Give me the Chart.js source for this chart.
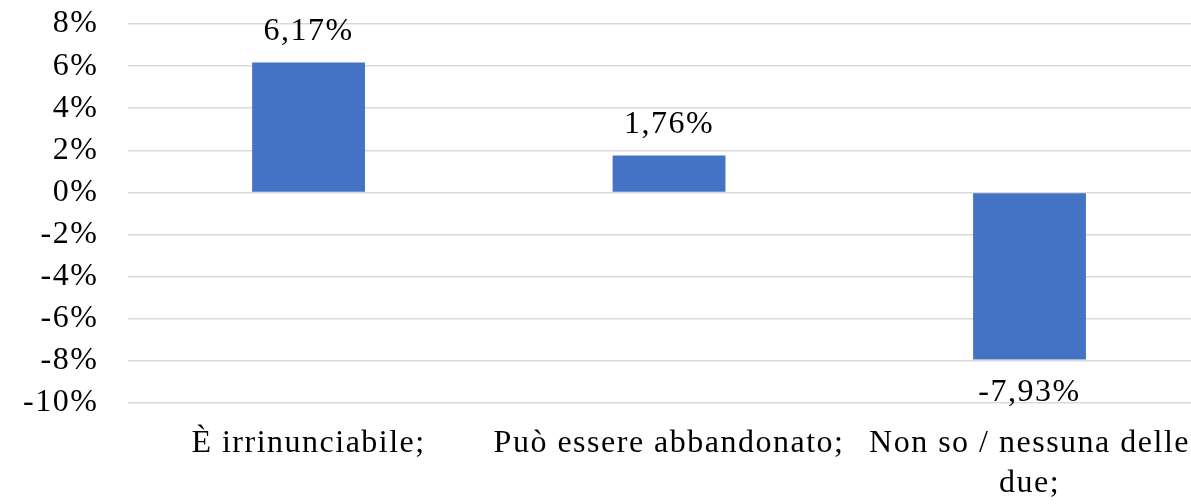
<!DOCTYPE html>
<html>
<head>
<meta charset="utf-8">
<script src="https://cdn.jsdelivr.net/npm/chart.js@4"></script>
<style>
  html, body { margin: 0; padding: 0; background: #fff; overflow: hidden; }
  #wrap { width: 1211px; height: 504px; position: relative; }
</style>
</head>
<body>
<div id="wrap"><canvas id="c"></canvas></div>
<script>
const categories = ["È irrinunciabile;", "Può essere abbandonato;", ["Non so / nessuna delle", "due;"]];
const values = [6.17, 1.76, -7.93];
const yMin = -10, yMax = 8, yStep = 2;

const FAMILY = "'Liberation Serif', 'Times New Roman', serif";
const FONT = { family: FAMILY, size: 32, lineHeight: 1.2 };
const XFONT = { family: FAMILY, size: 32, lineHeight: 1.25 };
const SPACING = '1.5px';

const spacingPlugin = {
  id: 'spacing',
  beforeLayout(chart) { chart.ctx.letterSpacing = SPACING; },
  beforeDraw(chart) { chart.ctx.letterSpacing = SPACING; }
};

const labelPlugin = {
  id: 'barLabels',
  afterDatasetsDraw(chart) {
    const ctx = chart.ctx;
    const meta = chart.getDatasetMeta(0);
    ctx.save();
    ctx.letterSpacing = SPACING;
    ctx.font = FONT.size + 'px ' + FONT.family;
    ctx.fillStyle = '#000';
    ctx.textAlign = 'center';
    ctx.textBaseline = 'middle';
    meta.data.forEach((bar, i) => {
      const v = values[i];
      const txt = v.toFixed(2).replace('.', ',') + '%';
      const y = v >= 0 ? bar.y - 31 : bar.y + 33;
      ctx.fillText(txt, bar.x, y);
    });
    ctx.restore();
  }
};

new Chart(document.getElementById('c'), {
  type: 'bar',
  data: {
    labels: categories,
    datasets: [{
      data: values,
      backgroundColor: '#4472C4',
      borderWidth: 0,
      categoryPercentage: 1,
      barPercentage: 0.313
    }]
  },
  options: {
    responsive: true,
    maintainAspectRatio: false,
    animation: false,
    layout: { padding: { left: -7, top: 24, right: 0, bottom: -21 } },
    plugins: { legend: { display: false }, tooltip: { enabled: false } },
    scales: {
      x: {
        grid: { display: false, drawTicks: false },
        border: { display: false },
        ticks: { color: '#000', font: XFONT, maxRotation: 0, autoSkip: false, padding: 21 }
      },
      y: {
        min: yMin, max: yMax,
        afterFit(scale) { scale.paddingTop = 0; scale.paddingBottom = 0; },
        grid: { color: '#D9D9D9', lineWidth: 1.5, drawTicks: false },
        border: { display: false },
        ticks: {
          stepSize: yStep, color: '#000', font: FONT, padding: 30, autoSkip: false,
          callback: v => v + '%'
        }
      }
    }
  },
  plugins: [spacingPlugin, labelPlugin]
});
</script>
</body>
</html>
